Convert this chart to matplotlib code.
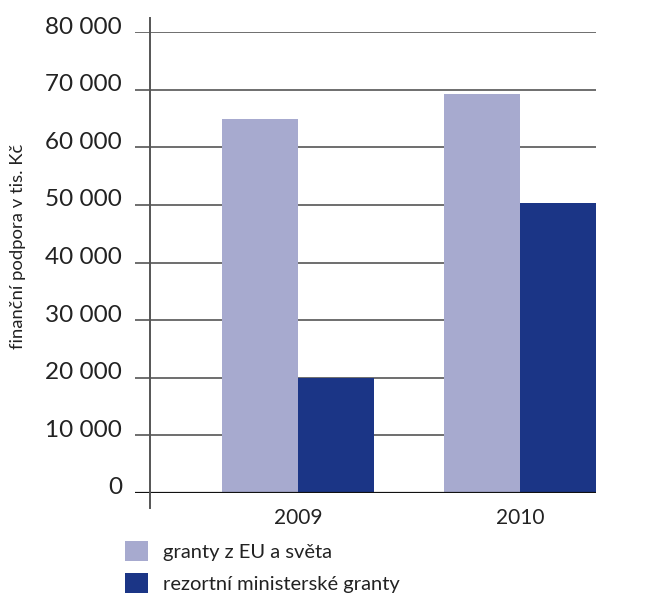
import matplotlib
matplotlib.use("Agg")
import matplotlib.pyplot as plt
from matplotlib.lines import Line2D

plt.rcParams['font.family'] = ['Lato', 'DejaVu Sans']

years = ["2009", "2010"]
series_names = ["granty z EU a světa", "rezortní ministerské granty"]
eu_grants = [64900, 69300]
ministry_grants = [20000, 50300]
y_ticks = [0, 10000, 20000, 30000, 40000, 50000, 60000, 70000, 80000]
y_label = "finanční podpora v tis. Kč"

W, H = 656, 594
fig = plt.figure(figsize=(W / 100, H / 100), dpi=100)
L, R, T, B = 135, 596, 32, 493
ax = fig.add_axes([L / W, 1 - B / H, (R - L) / W, (B - T) / H])

c_light = "#A7AACF"
c_dark = "#1B3586"
txt = "#222222"

x = list(range(len(years)))
w = 76 / 222
ax.bar([i - w for i in x], eu_grants, width=w, align="edge", color=c_light,
       label=series_names[0], zorder=3)
ax.bar(x, ministry_grants, width=w, align="edge", color=c_dark,
       label=series_names[1], zorder=3)

ax.set_xlim((L - 298) / 222, (R - 298) / 222)
ax.set_ylim(0, 80000)

px = 80000 / (B - T)
for v in y_ticks:
    ax.axhline(v, color="#111111" if v == 0 else "#6e6e6e",
               lw=1.6 if v == 0 else 1.4, zorder=2 if v else 4)
    ax.text(-13 / (R - L), v - 1.5 * px, f"{v:,}".replace(",", " "),
            transform=ax.get_yaxis_transform(),
            ha="right", va="baseline", fontsize=17.5, color=txt)

for s in ax.spines.values():
    s.set_visible(False)
ax.set_xticks([])
ax.set_yticks([])

# vertical axis line
ax.add_line(Line2D([(150 - L) / (R - L)] * 2,
                   [(B - 508) / (B - T), (B - 18) / (B - T)],
                   transform=ax.transAxes, color="#555555", lw=1.4,
                   clip_on=False, zorder=5))

for i, yr in enumerate(years):
    ax.text(i, -(518 - B) * px, yr, ha="center", va="center",
            fontsize=15, color=txt)

fig.text(18 / W, 1 - 246 / H, y_label, rotation=90, ha="center", va="center",
         fontsize=13.3, color=txt)

fs = 14.5
fig.legend(loc="upper left", bbox_to_anchor=(125 / W, 1 - 541 / H),
           frameon=False, fontsize=fs, handlelength=1.14, handleheight=1.14,
           handletextpad=0.75, labelspacing=0.62, borderpad=0, borderaxespad=0,
           labelcolor=txt)

fig.savefig("out.png", dpi=100, facecolor="white")
